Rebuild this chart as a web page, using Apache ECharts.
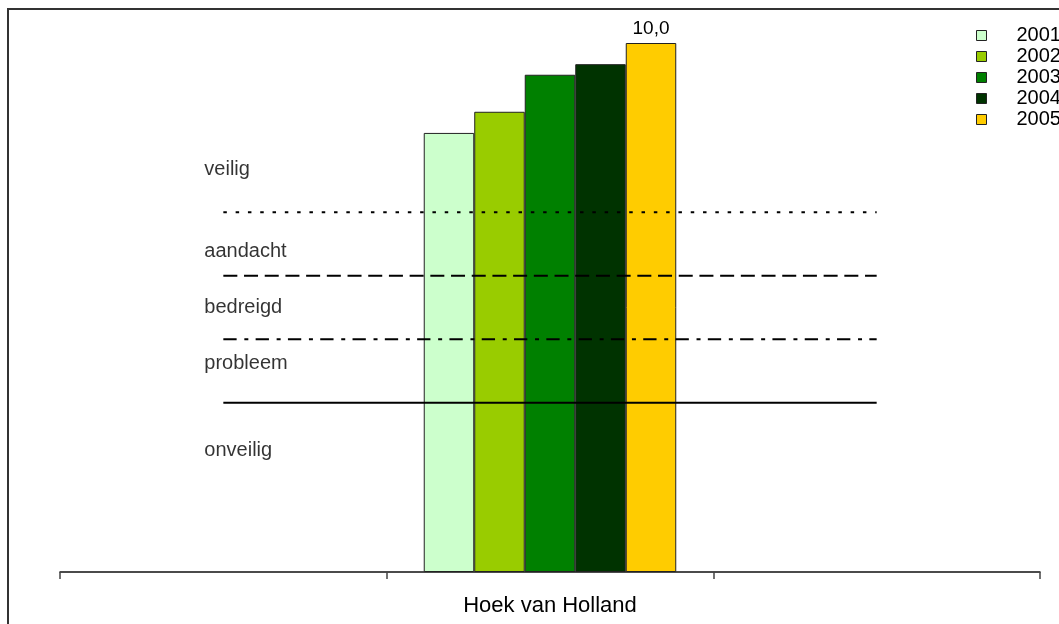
<!DOCTYPE html>
<html>
<head>
<meta charset="utf-8">
<script src="https://cdn.jsdelivr.net/npm/echarts@6/dist/echarts.min.js"></script>
<style>
  html, body { margin: 0; padding: 0; background: #fff; }
  #chart { width: 1059px; height: 624px; }
</style>
</head>
<body>
<div id="chart"></div>
<script>
// ---- data ----
const categories = ['', 'Hoek van Holland', ' '];
const years = ['2001', '2002', '2003', '2004', '2005'];
const yearColors = ['#CCFFCC', '#99CC00', '#008000', '#003300', '#FFCC00'];
const values2001 = [null, 8.3, null];
const values2002 = [null, 8.7, null];
const values2003 = [null, 9.4, null];
const values2004 = [null, 9.6, null];
const values2005 = [null, 10.0, null];
const seriesValues = [values2001, values2002, values2003, values2004, values2005];

// threshold lines (across all categories)
const thresholdNames = ['veilig/aandacht', 'aandacht/bedreigd', 'bedreigd/probleem', 'probleem/onveilig'];
const thresholdValues = [6.8, 5.6, 4.4, 3.2];

// zone labels and their vertical anchor values (placed at the first category)
const zoneLabels = ['veilig', 'aandacht', 'bedreigd', 'probleem', 'onveilig'];
const zoneLabelValues = [7.6, 6.05, 5.0, 3.95, 2.3];

// ---- chart ----
const FONT = "'Liberation Sans', Arial, sans-serif";
const chart = echarts.init(document.getElementById('chart'), null, { renderer: 'canvas' });

const dashStyles = [[3.5, 8.8], [14, 6.7], [13.3, 7.7, 4, 7.3], 'solid'];

const series = [];
years.forEach((y, i) => {
  series.push({
    name: y,
    type: 'bar',
    data: seriesValues[i],
    barGap: '0%',
    barCategoryGap: '22.7%',
    itemStyle: { color: yearColors[i], borderColor: '#222', borderWidth: 1 },
    label: i === years.length - 1 ? {
      show: true, position: 'top', distance: 5,
      fontFamily: FONT, fontSize: 19, color: '#000',
      formatter: p => p.value.toFixed(1).replace('.', ',')
    } : { show: false },
    z: 2
  });
});

thresholdValues.forEach((v, i) => {
  series.push({
    name: thresholdNames[i],
    type: 'line',
    data: categories.map(() => v),
    symbol: 'none',
    silent: true,
    lineStyle: { color: '#000', width: 2, type: dashStyles[i] },
    z: 3
  });
});

series.push({
  name: 'zones',
  type: 'scatter',
  data: zoneLabelValues.map((v, i) => ({ value: [0, v], name: zoneLabels[i] })),
  symbolSize: 2,
  itemStyle: { color: 'rgba(0,0,0,0)' },
  silent: true,
  label: {
    show: true, position: 'inside', align: 'left', verticalAlign: 'middle',
    offset: [-19, 0],
    formatter: p => p.name,
    fontFamily: FONT, fontSize: 20, color: '#000'
  },
  z: 4
});

chart.setOption({
  animation: false,
  backgroundColor: '#fff',
  textStyle: { fontFamily: FONT },
  graphic: [{
    type: 'rect',
    shape: { x: 8, y: 9, width: 1200, height: 800 },
    style: { fill: 'none', stroke: '#333', lineWidth: 2 },
    silent: true, z: 0
  }],
  grid: { left: 60, right: 19, top: 43, bottom: 52, containLabel: false },
  legend: {
    data: years,
    orient: 'vertical',
    left: 971,
    top: 20,
    itemWidth: 10,
    itemHeight: 10,
    itemGap: 0,
    icon: 'rect',
    itemStyle: { borderColor: '#222', borderWidth: 1 },
    textStyle: { fontFamily: FONT, fontSize: 20, color: '#000', lineHeight: 21, padding: [0, 0, 0, 25] },
    selectedMode: false
  },
  xAxis: {
    type: 'category',
    data: categories,
    axisLine: { show: true, lineStyle: { color: '#111', width: 1.5 } },
    axisTick: { show: true, length: 7, lineStyle: { color: '#444', width: 1.5 } },
    axisLabel: { margin: 23, fontFamily: FONT, fontSize: 22, color: '#000', interval: 0 },
    splitLine: { show: false }
  },
  yAxis: {
    type: 'value',
    min: 0, max: 10,
    show: false,
    splitLine: { show: false }
  },
  series: series
});
</script>
</body>
</html>
